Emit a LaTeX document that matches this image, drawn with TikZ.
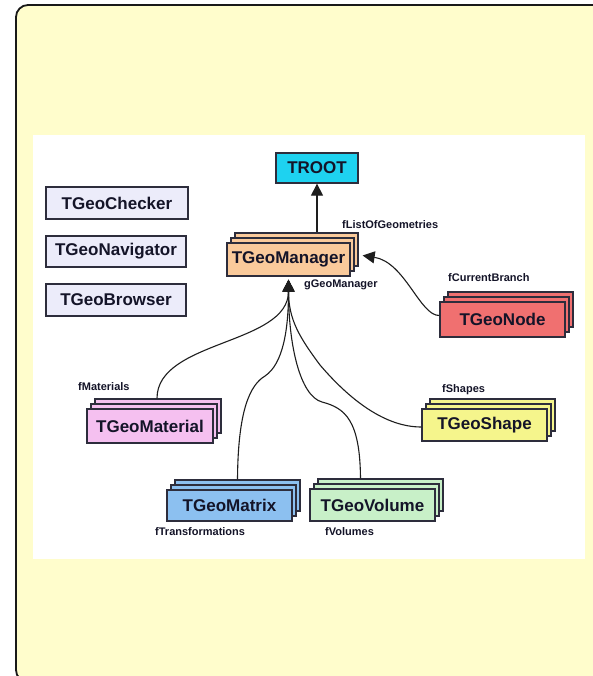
\documentclass[tikz,border=0pt]{standalone}
\usepackage{fontspec}
\setmainfont{Liberation Sans}
\usetikzlibrary{arrows.meta,shadows}
\definecolor{bgyellow}{RGB}{255,253,204}
\definecolor{framec}{RGB}{25,25,25}
\definecolor{boxline}{RGB}{45,45,60}
\definecolor{textc}{RGB}{20,20,40}
\definecolor{linec}{RGB}{30,30,30}
\definecolor{trootc}{RGB}{30,210,240}
\definecolor{lavc}{RGB}{236,236,250}
\definecolor{mgrc}{RGB}{250,202,155}
\definecolor{nodec}{RGB}{240,112,112}
\definecolor{matc}{RGB}{245,192,240}
\definecolor{shpc}{RGB}{245,245,140}
\definecolor{mtxc}{RGB}{140,192,240}
\definecolor{volc}{RGB}{200,240,200}
\tikzset{
  box/.style={draw=boxline, line width=1.3pt, text=textc,
    font=\fontsize{17}{20}\selectfont\bfseries, inner sep=0pt,
    minimum width=125pt, minimum height=32pt},
  stackbox/.style={box, fill=#1,
    double copy shadow={shadow xshift=4pt, shadow yshift=5pt,
      fill=#1, draw=boxline, line width=1.3pt}},
  lbl/.style={font=\fontsize{11}{13}\selectfont\bfseries, text=textc,
    inner sep=0pt, anchor=west},
  link/.style={draw=linec, line width=1.1pt},
  arr/.style={link, -{Triangle[length=12pt,width=12pt]}},
}
\begin{document}
\begin{tikzpicture}[x=1pt,y=-1pt]
\useasboundingbox (0,0) rectangle (593,676);
\fill[white] (0,0) rectangle (593,676);
\draw[framec, line width=1.8pt, fill=bgyellow, rounded corners=12pt]
  (16,5) rectangle (630,682);
\fill[white] (33,135) rectangle (585,559);

% nodes
\node[box, fill=trootc, minimum width=82pt, minimum height=30pt] (troot) at (317,168) {TROOT};
\node[box, fill=lavc, minimum width=142pt] (chk) at (117,203) {TGeoChecker};
\node[box, fill=lavc, minimum width=140pt, minimum height=31pt] (nav) at (116,251.5) {TGeoNavigator};
\node[box, fill=lavc, minimum width=140pt] (brw) at (116,300) {TGeoBrowser};
\node[stackbox=mgrc, minimum width=123pt, minimum height=33pt] (mgr) at (288.5,259.5) {TGeoManager};
\node[stackbox=nodec, minimum height=35pt] (gnode) at (502.5,319.5) {TGeoNode};
\node[stackbox=matc, minimum width=126pt, minimum height=34pt] (mat) at (150,426) {TGeoMaterial};
\node[stackbox=shpc] (shp) at (484.5,425) {TGeoShape};
\node[stackbox=mtxc, minimum height=31pt] (mtx) at (229.5,505.5) {TGeoMatrix};
\node[stackbox=volc] (vol) at (372.5,505) {TGeoVolume};

% labels
\node[lbl] (l1) at (342,225) {fListOfGeometries};
\node[lbl] (l2) at (304,285) {gGeoManager};
\node[lbl] (l3) at (448,278) {fCurrentBranch};
\node[lbl] (l4) at (78,387) {fMaterials};
\node[lbl] (l5) at (442,390) {fShapes};
\node[lbl] (l6) at (155,532) {fTransformations};
\node[lbl] (l7) at (325,532) {fVolumes};

% connectors
\path ([yshift=10pt]mgr.north) coordinate (mtop);
\draw[arr] (mtop -| troot.south) -- (troot.south);
\coordinate (gtip) at ([yshift=-3pt]mgr.south);
\coordinate (rtip) at ([xshift=12pt,yshift=4pt]mgr.east);

\draw[arr] ([xshift=7pt,yshift=10pt]mat.north) .. controls (157,340) and (288.5,345) .. (gtip);
\draw[arr] ([xshift=8pt,yshift=10pt]mtx.north) .. controls (238,410) and (250,385) .. (265,376)
  .. controls (283,364) and (288.5,330) .. (gtip);
\draw[arr] ([xshift=-12pt,yshift=10pt]vol.north) .. controls (360,420) and (345,408) .. (322,402)
  .. controls (300,396) and (288.5,345) .. (gtip);
\draw[arr] ([yshift=-2pt]shp.west) .. controls (385,427) and (350,400) .. (320,365)
  .. controls (300,338) and (288.5,320) .. (gtip);
\draw[arr] ([yshift=4pt]gnode.west) .. controls (420,316) and (405,262) .. (rtip);
\end{tikzpicture}
\end{document}
